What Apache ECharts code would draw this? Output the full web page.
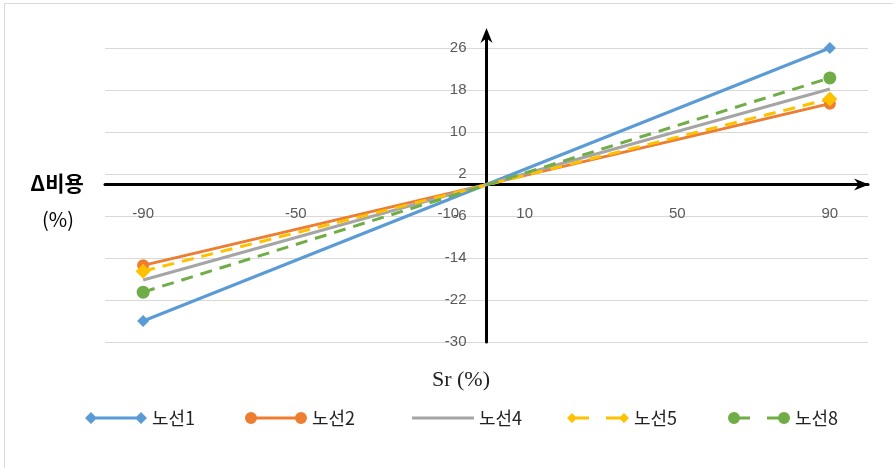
<!DOCTYPE html>
<html>
<head>
<meta charset="utf-8">
<script src="https://cdn.jsdelivr.net/npm/echarts@6/dist/echarts.min.js"></script>
<style>
  html, body { margin: 0; padding: 0; background: #fff; }
  #chart { width: 893px; height: 468px; }
</style>
</head>
<body>
<div id="chart"></div>
<script>
// Sr (%) sample points and the change in cost (%) per route
const srValues = [-90, 90];
const route1 = [-26, 26];
const route2 = [-15.4, 15.4];
const route4 = [-18.2, 18.2];
const route5 = [-16.5, 16.3];
const route8 = [-20.5, 20.3];

const routeNames = ['노선1', '노선2', '노선4', '노선5', '노선8'];
const xTickLabels = [-90, -50, -10, 10, 50, 90];
const xMin = -100, xMax = 100;
const yMin = -30, yMax = 26, yStep = 8;

const colors = ['#5B9BD5', '#ED7D31', '#A5A5A5', '#FFC000', '#70AD47'];
const labelFont = '"Liberation Sans", Arial, sans-serif';
const krFont = '"Noto Sans CJK KR", "Noto Sans", sans-serif';

function pairs(ys) { return srValues.map((x, i) => [x, ys[i]]); }

// plotting area
const W = 893, H = 468;
const gridL = 105, gridR = 25, gridT = 48, gridB = 126;
const plotW = W - gridL - gridR, plotH = H - gridT - gridB;
// shift each axis (line + labels) onto the other axis' zero
const yAxisShift = -plotW * (0 - xMin) / (xMax - xMin);
const xAxisShift = -plotH * (0 - yMin) / (yMax - yMin);

// axis arrow: arrowhead with a short shaft so the line reaches the tip
const arrowPath = 'path://M6,0 L12,15 L7.5,11.5 L7.5,20 L4.5,20 L4.5,11.5 L0,15 Z';

// legend icons: line with end markers
const diamondL = 'M0,6 L6,0 L12,6 L6,12 Z';
const diamondR = 'M50,6 L56,0 L62,6 L56,12 Z';
const circleL = 'M0,6 A6,6 0 1,1 12,6 A6,6 0 1,1 0,6 Z';
const circleR = 'M50,6 A6,6 0 1,1 62,6 A6,6 0 1,1 50,6 Z';
const solidBar = 'M6,4.5 L56,4.5 L56,7.5 L6,7.5 Z';
const dashBars = 'M6,4.5 L22,4.5 L22,7.5 L6,7.5 Z M39,4.5 L56,4.5 L56,7.5 L39,7.5 Z';
const icons = [
  'path://' + diamondL + ' ' + solidBar + ' ' + diamondR,
  'path://' + circleL + ' ' + solidBar + ' ' + circleR,
  'path://M0,4.5 L62,4.5 L62,7.5 L0,7.5 Z',
  'path://M0,6 L5,1 L10,6 L5,11 Z ' + dashBars + ' M52,6 L57,1 L62,6 L57,11 Z',
  'path://' + circleL + ' ' + dashBars + ' ' + circleR
];
const legendLeft = [85, 245, 412, 567, 728];

const chart = echarts.init(document.getElementById('chart'), null, { renderer: 'canvas' });

const seriesData = [route1, route2, route4, route5, route8];
const symbols = ['diamond', 'circle', 'none', 'diamond', 'circle'];
const symbolSizes = [12, 12, 0, 15, 13];
const dashed = [false, false, false, true, true];

chart.setOption({
  animation: false,
  backgroundColor: '#ffffff',
  color: colors,
  grid: { left: gridL, right: gridR, top: gridT, bottom: gridB, containLabel: false },
  legend: routeNames.map((name, i) => ({
    data: [{ name: name, icon: icons[i] }],
    left: legendLeft[i],
    top: 409,
    padding: 0,
    itemWidth: 62,
    itemHeight: 12,
    itemStyle: { borderWidth: 0 },
    textStyle: { fontFamily: krFont, fontSize: 18, color: '#222' }
  })),
  xAxis: {
    type: 'value',
    position: 'bottom',
    offset: xAxisShift,
    min: xMin,
    max: xMax,
    interval: 10,
    axisLine: {
      onZero: false,
      lineStyle: { color: '#000', width: 3 },
      symbol: ['none', arrowPath],
      symbolSize: [13, 20],
      symbolOffset: [0, -9]
    },
    axisTick: { show: false },
    splitLine: { show: false },
    axisLabel: {
      margin: 22,
      fontFamily: labelFont,
      fontSize: 15,
      color: '#595959',
      formatter: v => (xTickLabels.indexOf(v) >= 0 ? String(v) : '')
    }
  },
  yAxis: {
    type: 'value',
    position: 'left',
    offset: yAxisShift,
    min: yMin,
    max: yMax,
    interval: yStep,
    axisLine: {
      onZero: false,
      lineStyle: { color: '#000', width: 3 },
      symbol: ['none', arrowPath],
      symbolSize: [13, 20],
      symbolOffset: [0, 10]
    },
    axisTick: { show: false },
    splitLine: { show: true, lineStyle: { color: '#d9d9d9', width: 1 } },
    axisLabel: {
      margin: 20,
      fontFamily: labelFont,
      fontSize: 15,
      color: '#595959'
    }
  },
  series: routeNames.map((name, i) => ({
    name: name,
    type: 'line',
    data: pairs(seriesData[i]),
    symbol: symbols[i],
    symbolSize: symbolSizes[i],
    showSymbol: symbols[i] !== 'none',
    itemStyle: { color: colors[i], borderWidth: 0 },
    lineStyle: {
      color: colors[i],
      width: 3,
      type: dashed[i] ? [12, 8] : 'solid'
    },
    z: 3 + i
  })),
  graphic: [
    // chart frame (top and left edges)
    { type: 'line', shape: { x1: 4.5, y1: 3.5, x2: 893, y2: 3.5 }, style: { stroke: '#d9d9d9', lineWidth: 1 }, silent: true },
    { type: 'line', shape: { x1: 4.5, y1: 3.5, x2: 4.5, y2: 468 }, style: { stroke: '#d9d9d9', lineWidth: 1 }, silent: true },
    {
      type: 'text', x: 57, y: 183,
      style: { text: 'Δ비용', font: 'bold 21px ' + krFont, fill: '#000', align: 'center', verticalAlign: 'middle' }
    },
    {
      type: 'text', x: 58, y: 219,
      style: { text: '(%)', font: '20px ' + krFont, fill: '#000', align: 'center', verticalAlign: 'middle' }
    },
    {
      type: 'text', x: 461, y: 380,
      style: { text: 'Sr (%)', font: '22px "Liberation Serif", "DejaVu Serif", serif', fill: '#222', align: 'center', verticalAlign: 'middle' }
    }
  ]
});
</script>
</body>
</html>
